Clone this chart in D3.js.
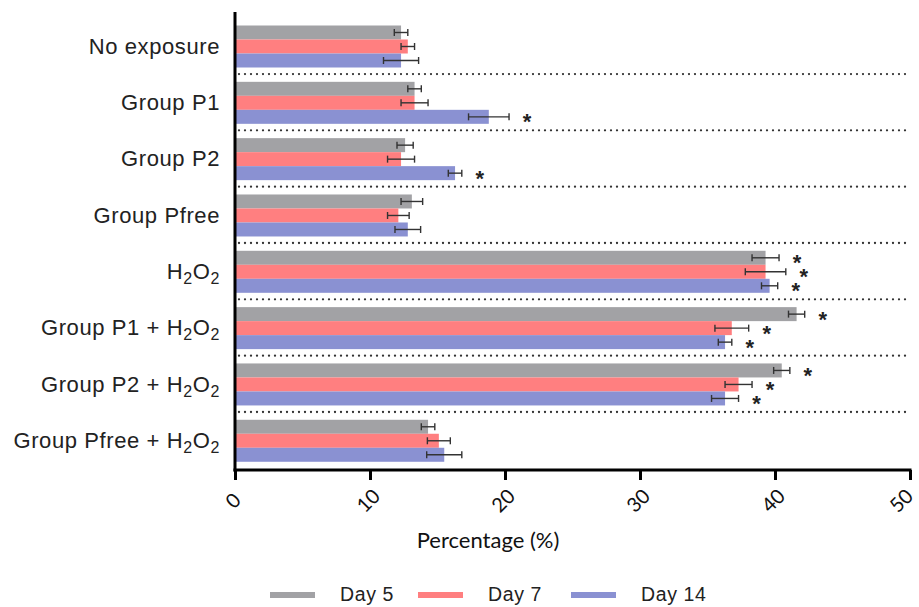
<!DOCTYPE html>
<html>
<head>
<meta charset="utf-8">
<script src="https://cdn.jsdelivr.net/npm/d3@7"></script>
<style>
  body { margin: 0; background: #fff; }
  svg { display: block; }
</style>
</head>
<body>
<svg id="chart" width="919" height="607"></svg>
<script>
// data
const categories = ["No exposure", "Group P1", "Group P2", "Group Pfree", "H2O2",
  "Group P1 + H2O2", "Group P2 + H2O2", "Group Pfree + H2O2"];
const seriesNames = ["Day 5", "Day 7", "Day 14"];
const day5 = [12.3, 13.3, 12.6, 13.1, 39.3, 41.6, 40.5, 14.3];
const day5Err = [0.5, 0.5, 0.6, 0.8, 1.0, 0.6, 0.6, 0.5];
const day7 = [12.8, 13.3, 12.3, 12.1, 39.3, 36.8, 37.3, 15.1];
const day7Err = [0.5, 1.0, 1.0, 0.8, 1.5, 1.25, 1.0, 0.85];
const day14 = [12.3, 18.8, 16.3, 12.8, 39.6, 36.3, 36.3, 15.5];
const day14Err = [1.3, 1.5, 0.5, 0.95, 0.6, 0.5, 1.0, 1.3];
const day5Sig = [0, 0, 0, 0, 1, 1, 1, 0];
const day7Sig = [0, 0, 0, 0, 1, 1, 1, 0];
const day14Sig = [0, 1, 1, 0, 1, 1, 1, 0];
const xTicks = [0, 10, 20, 30, 40, 50];

const colors = ["#a2a2a5", "#ff7f80", "#8a91d2"];
const values = [day5, day7, day14];
const errs = [day5Err, day7Err, day14Err];
const sigs = [day5Sig, day7Sig, day14Sig];

const svg = d3.select("#chart");

// scales
const x = d3.scaleLinear().domain([0, 50]).range([235, 910]);
const y = d3.scaleBand().domain(categories).range([17.7, 468.3]);
const yInner = d3.scaleBand().domain(seriesNames).range([7.8, 49.8]);

// rows of bars
const rows = [];
categories.forEach((c, i) => {
  seriesNames.forEach((s, j) => {
    rows.push({ cat: c, series: s, j, v: values[j][i], e: errs[j][i], sig: sigs[j][i] });
  });
});

// dotted separators between groups
svg.append("g")
  .selectAll("line")
  .data(categories.slice(1))
  .enter()
  .append("line")
  .attr("x1", x(0) + 4)
  .attr("x2", 911)
  .attr("y1", d => y(d))
  .attr("y2", d => y(d))
  .attr("stroke", "#333")
  .attr("stroke-width", 2.3)
  .attr("stroke-linecap", "round")
  .attr("stroke-dasharray", "0,6");

// bars
svg.append("g")
  .selectAll("rect")
  .data(rows)
  .enter()
  .append("rect")
  .attr("x", x(0))
  .attr("y", d => y(d.cat) + yInner(d.series))
  .attr("width", d => x(d.v) - x(0))
  .attr("height", yInner.bandwidth())
  .attr("fill", d => colors[d.j]);

// error bars
const eb = svg.append("g")
  .attr("stroke", "#333")
  .attr("stroke-width", 1.4);

rows.forEach(d => {
  const cy = y(d.cat) + yInner(d.series) + yInner.bandwidth() / 2;
  eb.append("line")
    .attr("x1", x(d.v - d.e)).attr("x2", x(d.v + d.e))
    .attr("y1", cy).attr("y2", cy);
  [d.v - d.e, d.v + d.e].forEach(v => {
    eb.append("line")
      .attr("x1", x(v)).attr("x2", x(v))
      .attr("y1", cy - 3.5).attr("y2", cy + 3.5);
  });
});

// significance stars
svg.append("g")
  .selectAll("text")
  .data(rows.filter(d => d.sig))
  .enter()
  .append("text")
  .attr("x", d => x(d.v + d.e) + 18)
  .attr("y", d => y(d.cat) + yInner(d.series) + yInner.bandwidth() / 2 + 12.5)
  .attr("text-anchor", "middle")
  .style("font-family", "Liberation Sans, Arial, sans-serif")
  .style("font-size", "22px")
  .style("font-weight", "bold")
  .style("fill", "#222")
  .text("*");

// x axis
const xAxis = d3.axisBottom(x)
  .tickValues(xTicks)
  .tickSize(10)
  .tickSizeOuter(0)
  .tickFormat(d3.format("d"));

const gx = svg.append("g")
  .attr("transform", "translate(0,470)")
  .call(xAxis);

gx.select(".domain")
  .attr("stroke", "#000")
  .attr("stroke-width", 3)
  .attr("d", `M${x(0) - 1.5},0H${x(50) + 1.5}`);
gx.selectAll(".tick line")
  .attr("stroke", "#000")
  .attr("stroke-width", 3);
gx.selectAll(".tick text")
  .attr("y", 0)
  .attr("dy", null)
  .attr("transform", d => d === 50 ? "translate(-10,30) rotate(-45)" : "translate(-3,30) rotate(-45)")
  .attr("text-anchor", "middle")
  .attr("dominant-baseline", "central")
  .style("font-family", "Lato, sans-serif")
  .style("font-size", "20px")
  .style("fill", "#111");

// y axis line
svg.append("line")
  .attr("x1", x(0)).attr("x2", x(0))
  .attr("y1", 12).attr("y2", 471.5)
  .attr("stroke", "#000")
  .attr("stroke-width", 3);

// y axis labels with subscripts
const yAxis = d3.axisLeft(y).tickSize(0).tickPadding(0);
const gy = svg.append("g")
  .attr("transform", "translate(220,0)")
  .call(yAxis);
gy.select(".domain").remove();
gy.selectAll(".tick text")
  .attr("dy", "0.35em")
  .style("font-family", "Liberation Sans, Arial, sans-serif")
  .style("font-size", "22px")
  .style("letter-spacing", "0.6px")
  .style("fill", "#222")
  .each(function (d) {
    const t = d3.select(this);
    t.text(null);
    const parts = d.split("H2O2");
    t.append("tspan").text(parts[0]);
    if (parts.length > 1) {
      t.append("tspan").text("H");
      t.append("tspan").attr("dy", 5).style("font-size", "16px").text("2");
      t.append("tspan").attr("dy", -5).text("O");
      t.append("tspan").attr("dy", 5).style("font-size", "16px").text("2");
    }
  });

// x axis title
svg.append("text")
  .attr("x", 488)
  .attr("y", 548)
  .attr("text-anchor", "middle")
  .style("font-family", "Lato, sans-serif")
  .style("font-size", "22px")
  .style("fill", "#111")
  .text("Percentage (%)");

// legend
const legendX = [270, 418, 571];
const legend = svg.append("g");
seriesNames.forEach((s, j) => {
  legend.append("rect")
    .attr("x", legendX[j]).attr("y", 592)
    .attr("width", 45).attr("height", 6)
    .attr("fill", colors[j]);
  legend.append("text")
    .attr("x", legendX[j] + 70)
    .attr("y", 601)
    .style("font-family", "Liberation Sans, Arial, sans-serif")
    .style("font-size", "19.5px")
    .style("letter-spacing", "0.6px")
    .style("fill", "#222")
    .text(s);
});
</script>
</body>
</html>
